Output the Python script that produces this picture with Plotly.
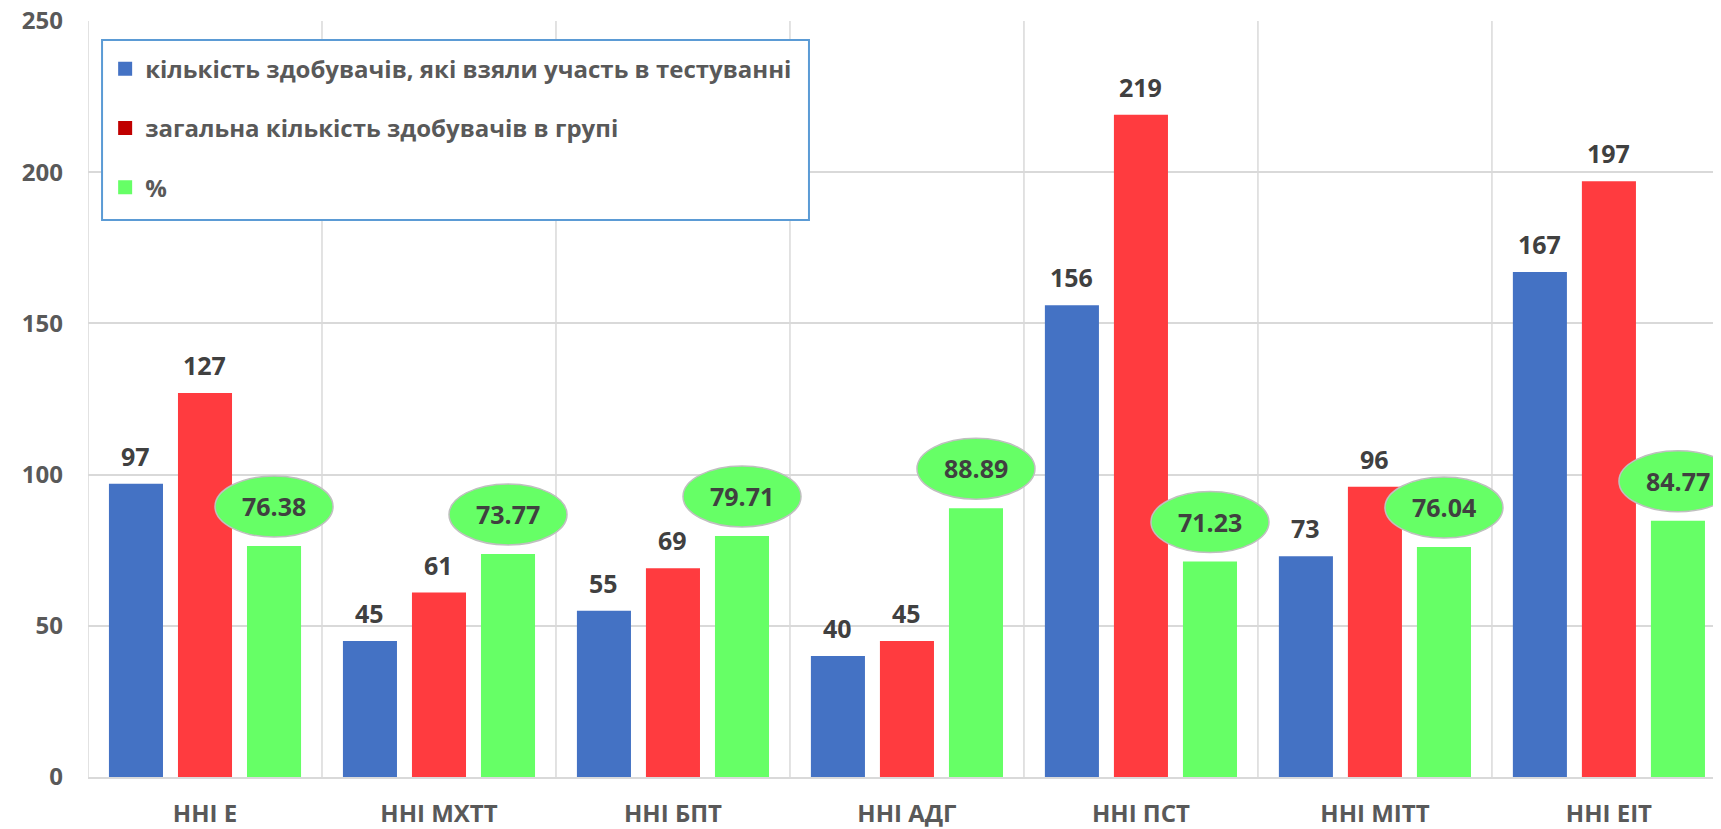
import plotly.graph_objects as go

categories = ["ННІ Е", "ННІ МХТТ", "ННІ БПТ", "ННІ АДГ", "ННІ ПСТ", "ННІ МІТТ", "ННІ ЕІТ"]
took_test = [97, 45, 55, 40, 156, 73, 167]
total = [127, 61, 69, 45, 219, 96, 197]
percent = [76.38, 73.77, 79.71, 88.89, 71.23, 76.04, 84.77]

names = ["кількість здобувачів, які взяли участь в тестуванні",
         "загальна кількість здобувачів в групі",
         "%"]

BLUE = "#4472C4"
RED = "#FF3B3F"
GREEN = "#66FF66"
LEGEND_COLORS = [BLUE, "#C00000", GREEN]
FONT = "Open Sans"
LABEL_COLOR = "#404040"
AXIS_COLOR = "#595959"

W = 0.231      # bar width in category units
STEP = 0.295   # distance between bar centres

xs = list(range(len(categories)))
fig = go.Figure()

series = [took_test, total, percent]
colors = [BLUE, RED, GREEN]
for k, (vals, col) in enumerate(zip(series, colors)):
    fig.add_trace(go.Bar(
        x=xs, y=vals, width=W, offset=(k - 1) * STEP - W / 2,
        marker=dict(color=col, line=dict(width=0)),
        showlegend=False, hoverinfo="y",
    ))

# legend-only entries (square swatches)
for k, (nm, col) in enumerate(zip(names, LEGEND_COLORS)):
    fig.add_trace(go.Scatter(x=[None], y=[None], name=nm, mode="markers",
                             marker=dict(symbol="square", size=14, color=col),
                             legendgroup=str(k), showlegend=True))

annotations = []
shapes = []
lab_font = dict(family=FONT, size=25, color=LABEL_COLOR, weight="bold")
for i in xs:
    for k, vals in enumerate([took_test, total]):
        annotations.append(dict(x=i + (k - 1) * STEP, y=vals[i], xref="x", yref="y",
                                text=str(vals[i]), showarrow=False, yshift=28,
                                font=lab_font))
    gx = i + STEP
    shapes.append(dict(type="circle", xref="x", yref="y",
                       xsizemode="pixel", ysizemode="pixel",
                       xanchor=gx, yanchor=percent[i],
                       x0=-59, x1=59, y0=9, y1=70,
                       fillcolor=GREEN, line=dict(color="#BFBFBF", width=1.5),
                       layer="above"))
    annotations.append(dict(x=gx, y=percent[i], xref="x", yref="y",
                            text=f"{percent[i]:.2f}", showarrow=False, yshift=40,
                            font=lab_font))

# legend frame
shapes.append(dict(type="rect", xref="paper", yref="paper",
                   x0=0.0086, x1=0.4415, y0=0.7368, y1=0.975,
                   fillcolor="white", line=dict(color="#5B9BD5", width=2),
                   layer="above"))

fig.update_layout(
    width=1713, height=821,
    margin=dict(l=80, r=0, t=13, b=52),
    plot_bgcolor="white", paper_bgcolor="white",
    barmode="overlay",
    font=dict(family=FONT, color=AXIS_COLOR),
    shapes=shapes, annotations=annotations,
    legend=dict(x=0.0105, y=0.966, xanchor="left", yanchor="top",
                bgcolor="rgba(0,0,0,0)", borderwidth=0,
                font=dict(family=FONT, size=24, color=AXIS_COLOR, weight="bold"),
                tracegroupgap=25, traceorder="grouped", itemwidth=30),
    xaxis=dict(
        tickmode="array", tickvals=xs, ticktext=categories,
        range=[-0.5, 6.479], showgrid=False,
        showline=True, linecolor="#D9D9D9", linewidth=2,
        ticks="", ticklabelstandoff=14,
        tickfont=dict(family=FONT, size=24, color=AXIS_COLOR, weight="bold"),
        zeroline=False, automargin=False,
    ),
    yaxis=dict(
        range=[0, 250], tickvals=[0, 50, 100, 150, 200, 250],
        showgrid=True, gridcolor="#D9D9D9", gridwidth=1.5,
        zeroline=False, showline=False, ticks="", ticklabelstandoff=24,
        ticklabeloverflow="allow",
        tickfont=dict(family=FONT, size=24, color=AXIS_COLOR, weight="bold"),
        automargin=False,
    ),
)

# vertical separators at category boundaries
for b in [i - 0.5 for i in range(len(categories) + 1)]:
    fig.add_shape(type="line", xref="x", yref="paper", x0=b, x1=b, y0=0, y1=1,
                  line=dict(color="#D9D9D9", width=1.5), layer="below")

fig.write_html("out.html")
